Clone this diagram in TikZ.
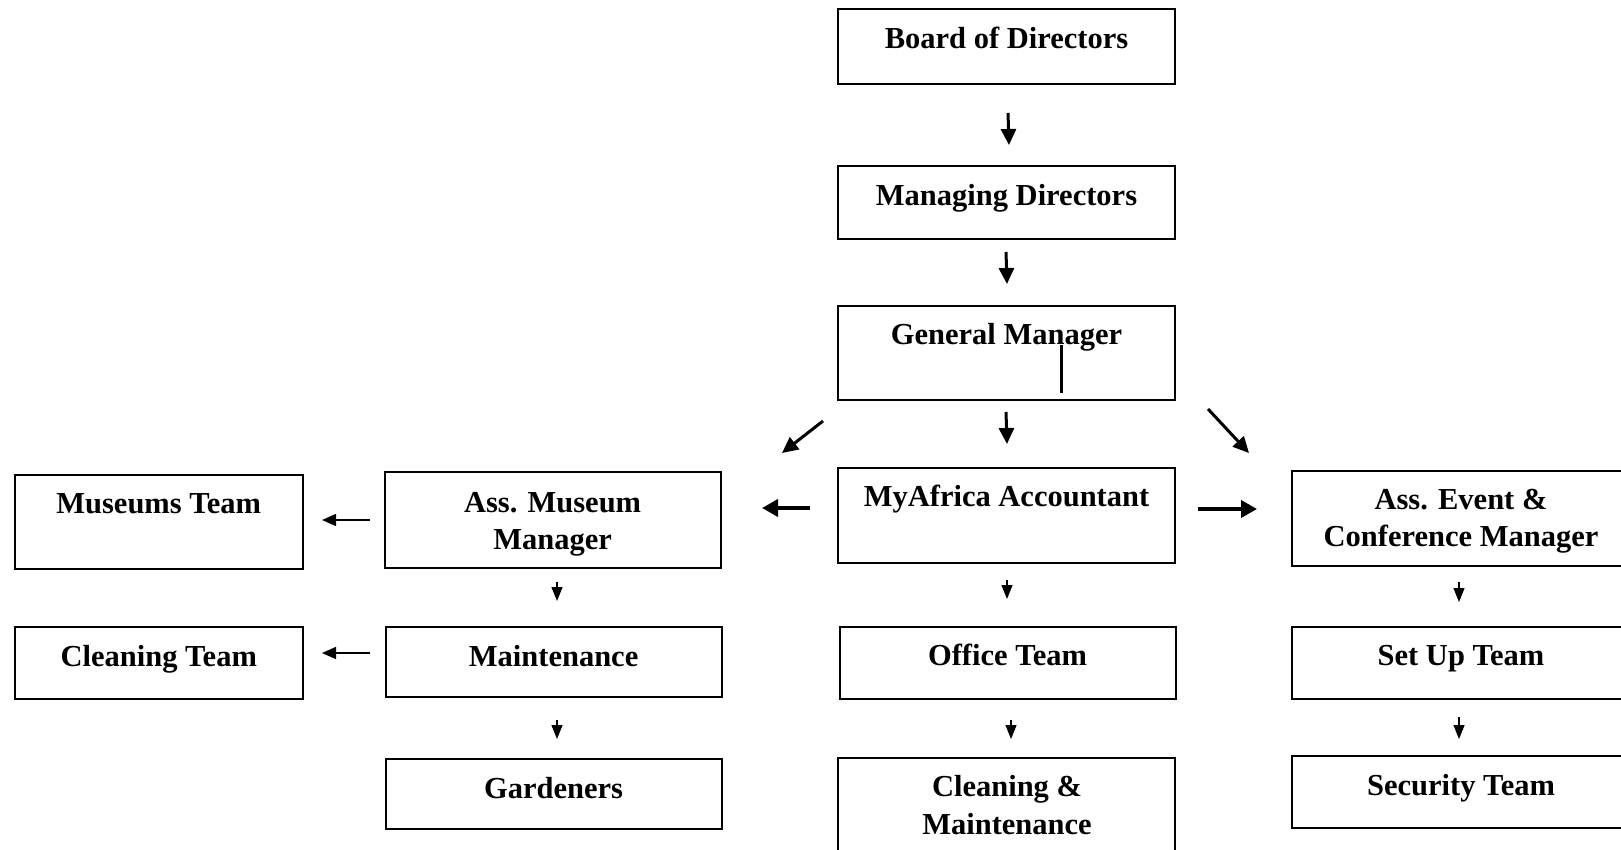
\documentclass[tikz,border=0pt]{standalone}
\usepackage{fontspec}
\setmainfont{Liberation Serif}
\usetikzlibrary{arrows.meta}

\tikzset{
  box/.style={draw=black, line width=2pt, rectangle, inner sep=0pt},
  lbl/.style={anchor=base, inner sep=0pt, align=center,
              font=\fontsize{30.5}{37.5}\selectfont\bfseries},
  bigarrow/.style={line width=3pt, -{Triangle[width=15pt,length=16pt]}},
  sidearrow/.style={line width=3.6pt, -{Triangle[width=17pt,length=16pt]}},
  thinarrow/.style={line width=1.5pt, -{Triangle[width=12pt,length=14pt]}},
  smallarrow/.style={line width=1.3pt, -{Triangle[width=11pt,length=14pt]}},
}

\begin{document}
\begin{tikzpicture}[x=1pt, y=-1pt]
  \useasboundingbox (0,0) rectangle (1621,850);

  % ---- top chain ----
  \node[box, minimum width=337pt, minimum height=75pt] (bod) at (1006.5,46.5) {};
  \node[lbl] (bodt) at (1006.5,48.5) {Board of Directors};

  \node[box, minimum width=337pt, minimum height=73pt] (md) at (1006.5,202.5) {};
  \node[lbl] (mdt) at (1006.5,206) {Managing Directors};

  \node[box, minimum width=337pt, minimum height=94pt] (gm) at (1006.5,353) {};
  \node[lbl] (gmt) at (1006.5,344) {General Manager};
  \coordinate (gmbar1) at (1061,345);
  \coordinate (gmbar2) at (1061,393);
  \draw[line width=3pt] (gmbar1) -- (gmbar2);

  \node[box, minimum width=337pt, minimum height=95pt] (acc) at (1006.5,515.5) {};
  \node[lbl] (acct) at (1006.5,506) {MyAfrica Accountant};

  % ---- museum branch (two-line labels sit on their last baseline) ----
  \node[box, minimum width=336pt, minimum height=95.5pt] (amm) at (552.6,519.8) {};
  \node[lbl] (ammt) at (552.6,549.5) {Ass. Museum\\Manager};

  \node[box, minimum width=288.5pt, minimum height=94pt] (mus) at (158.75,521.5) {};
  \node[lbl] (must) at (158.75,513) {Museums Team};

  \node[box, minimum width=288.5pt, minimum height=72.5pt] (clt) at (158.75,662.75) {};
  \node[lbl] (cltt) at (158.75,666) {Cleaning Team};

  \node[box, minimum width=336pt, minimum height=70.5pt] (mnt) at (553.6,661.75) {};
  \node[lbl] (mntt) at (553.6,666) {Maintenance};

  \node[box, minimum width=336pt, minimum height=70pt] (gar) at (553.6,794) {};
  \node[lbl] (gart) at (553.6,798) {Gardeners};

  % ---- office branch ----
  \node[box, minimum width=336pt, minimum height=72.5pt] (off) at (1007.5,662.75) {};
  \node[lbl] (offt) at (1007.5,665) {Office Team};

  \node[box, minimum width=337pt, minimum height=112pt] (cm) at (1006.5,814) {};
  \node[lbl] (cmt) at (1007,834) {Cleaning \&\\Maintenance};

  % ---- event branch ----
  \node[box, minimum width=338pt, minimum height=95pt] (aec) at (1461,518.5) {};
  \node[lbl] (aect) at (1461,546.5) {Ass. Event \&\\Conference Manager};

  \node[box, minimum width=338pt, minimum height=72.5pt] (sut) at (1461,662.75) {};
  \node[lbl] (sutt) at (1461,665) {Set Up Team};

  \node[box, minimum width=338pt, minimum height=72pt] (sec) at (1461,792) {};
  \node[lbl] (sect) at (1461,795) {Security Team};

  % ---- arrows ----
  \coordinate (a1s) at (1008,113);   \coordinate (a1e) at (1009,145);
  \coordinate (a2s) at (1006,252);   \coordinate (a2e) at (1007,284);
  \coordinate (a3s) at (1006,412);   \coordinate (a3e) at (1007,444);
  \coordinate (a4s) at (823,421);    \coordinate (a4e) at (782,453);
  \coordinate (a5s) at (1208,409);   \coordinate (a5e) at (1249,453);
  \coordinate (a6s) at (810,508);    \coordinate (a6e) at (762,508);
  \coordinate (a7s) at (1198,509);   \coordinate (a7e) at (1257,509);
  \coordinate (a8s) at (370,520);    \coordinate (a8e) at (322,520);
  \coordinate (a9s) at (370,653);    \coordinate (a9e) at (322,653);
  \coordinate (b1s) at (557,582);    \coordinate (b1e) at (557,601);
  \coordinate (b2s) at (557,720);    \coordinate (b2e) at (557,739);
  \coordinate (b3s) at (1007,580);   \coordinate (b3e) at (1007,599);
  \coordinate (b4s) at (1011,720);   \coordinate (b4e) at (1011,739);
  \coordinate (b5s) at (1459,582);   \coordinate (b5e) at (1459,602);
  \coordinate (b6s) at (1459,717);   \coordinate (b6e) at (1459,739);

  \draw[bigarrow] (a1s) -- (a1e);
  \draw[bigarrow] (a2s) -- (a2e);
  \draw[bigarrow] (a3s) -- (a3e);
  \draw[bigarrow] (a4s) -- (a4e);
  \draw[bigarrow] (a5s) -- (a5e);
  \draw[sidearrow] (a6s) -- (a6e);
  \draw[sidearrow] (a7s) -- (a7e);
  \draw[thinarrow] (a8s) -- (a8e);
  \draw[thinarrow] (a9s) -- (a9e);
  \draw[smallarrow] (b1s) -- (b1e);
  \draw[smallarrow] (b2s) -- (b2e);
  \draw[smallarrow] (b3s) -- (b3e);
  \draw[smallarrow] (b4s) -- (b4e);
  \draw[smallarrow] (b5s) -- (b5e);
  \draw[smallarrow] (b6s) -- (b6e);
\end{tikzpicture}
\end{document}
